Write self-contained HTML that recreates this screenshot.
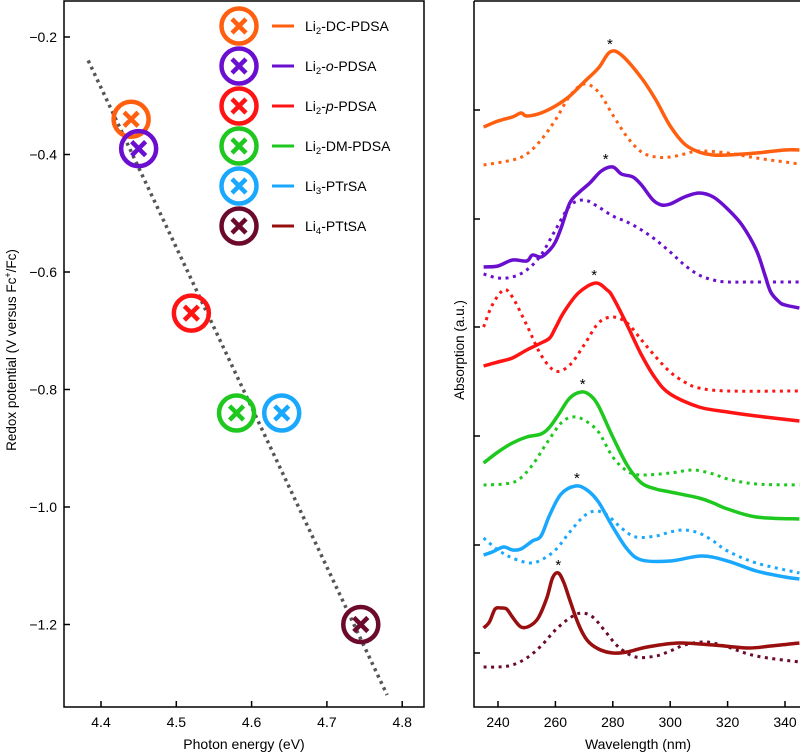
<!DOCTYPE html>
<html><head><meta charset="utf-8">
<style>
body{margin:0;background:#fff;}
svg{display:block;font-family:"Liberation Sans",sans-serif;}
</style></head>
<body>
<svg id="fig" width="800" height="753" viewBox="0 0 800 753" xmlns="http://www.w3.org/2000/svg">
<g id="left"></g>
<g id="right"></g>
</svg>
<script>
// ---- Left panel data ----
const names = ["Li2-DC-PDSA","Li2-o-PDSA","Li2-p-PDSA","Li2-DM-PDSA","Li3-PTrSA","Li4-PTtSA"];
const energies = [4.44, 4.45, 4.52, 4.58, 4.64, 4.745];
const potentials = [-0.34, -0.39, -0.67, -0.84, -0.84, -1.2];
const markerColors = ["#ff5f0f","#6a0fcf","#ff1414","#1ec81e","#1aa8ff","#6b0a2c"];
const lineColors = ["#ff5f0f","#6a0fcf","#ff1414","#1ec81e","#1aa8ff","#990f0f"];
const xTicksE = [4.4,4.5,4.6,4.7,4.8];
const yTicksV = [-0.2,-0.4,-0.6,-0.8,-1.0,-1.2];
const yTickLabels = ["\u22120.2","\u22120.4","\u22120.6","\u22120.8","\u22121.0","\u22121.2"];
const fitE = [4.383, 4.78];
const fitV = [-0.24, -1.32];

// ---- Right panel data ----
const wTicks = [240,260,280,300,320,340];
const absTicks = [0.54,1.62,2.71,3.80,4.88,5.97];
const sw = [
 [235,240,245,248,250,255,260,265,270,275,279,283,290,295,300,305,310,315,320,330,340,345],
 [235,240,245,250,252,255,258,260,262,265,268,272,276,280,283,287,290,294,297,300,305,310,315,320,325,330,333,335,338,340,345],
 [235,240,245,250,255,258,260,263,268,274,278,280,285,290,295,300,310,320,330,345],
 [235,240,245,250,255,258,261,265,269,272,275,280,285,290,295,300,310,315,320,330,345],
 [235,238,242,245,248,252,255,258,262,267,271,275,280,285,290,300,311,320,330,340,345],
 [235,237,239,241,243,245,248,251,254,257,259,261,263,265,268,271,275,280,285,292,303,315,327,335,345]
];
const sa = [
 [5.80,5.86,5.90,5.94,5.91,5.94,6.01,6.11,6.25,6.39,6.55,6.52,6.29,6.07,5.81,5.63,5.55,5.52,5.52,5.54,5.57,5.57],
 [4.40,4.41,4.47,4.46,4.52,4.50,4.57,4.65,4.79,5.04,5.14,5.24,5.36,5.40,5.33,5.30,5.22,5.07,5.02,5.03,5.10,5.14,5.10,4.98,4.82,4.57,4.32,4.15,4.05,4.02,3.99],
 [3.41,3.45,3.49,3.57,3.64,3.69,3.79,3.95,4.14,4.24,4.17,4.10,3.82,3.52,3.28,3.13,3.00,2.95,2.91,2.86],
 [2.44,2.55,2.64,2.70,2.73,2.80,2.92,3.09,3.15,3.12,3.01,2.70,2.42,2.24,2.18,2.15,2.09,2.04,1.98,1.90,1.88],
 [1.52,1.55,1.60,1.57,1.58,1.66,1.71,1.92,2.13,2.21,2.17,2.05,1.80,1.58,1.47,1.46,1.51,1.46,1.36,1.30,1.28],
 [0.79,0.85,0.98,0.99,0.98,0.90,0.80,0.81,0.89,1.09,1.29,1.34,1.24,1.07,0.83,0.67,0.58,0.54,0.55,0.60,0.64,0.62,0.59,0.61,0.64]
];
const dw = [
 [235,245,250,255,260,265,270,275,280,285,290,295,300,305,310,320,330,340,345],
 [235,240,245,250,255,260,265,270,275,280,285,290,295,300,305,310,315,320,330,345],
 [235,238,242,245,250,255,260,265,270,275,280,285,290,295,300,305,310,320,345],
 [235,242,247,252,257,262,266,270,275,280,285,290,300,308,315,320,330,345],
 [235,240,245,251,255,260,265,270,274,278,283,288,295,300,305,310,315,320,330,345],
 [235,240,245,250,255,260,265,269,273,277,282,288,295,300,305,311,315,320,330,345]
];
const da = [
 [5.42,5.47,5.53,5.67,5.87,6.11,6.23,6.15,5.92,5.70,5.55,5.50,5.50,5.53,5.56,5.54,5.49,5.45,5.43],
 [4.33,4.29,4.30,4.37,4.52,4.77,5.01,5.07,5.00,4.91,4.85,4.77,4.67,4.55,4.42,4.32,4.27,4.25,4.25,4.25],
 [3.80,4.02,4.17,4.10,3.82,3.52,3.36,3.42,3.62,3.84,3.90,3.84,3.67,3.50,3.35,3.25,3.19,3.16,3.16],
 [2.22,2.23,2.27,2.42,2.64,2.84,2.90,2.87,2.75,2.50,2.36,2.32,2.34,2.37,2.33,2.28,2.23,2.22],
 [1.69,1.57,1.49,1.44,1.47,1.57,1.75,1.91,1.96,1.92,1.79,1.70,1.71,1.75,1.77,1.74,1.66,1.56,1.44,1.34],
 [0.40,0.40,0.42,0.49,0.61,0.77,0.89,0.94,0.90,0.77,0.60,0.50,0.51,0.56,0.62,0.65,0.64,0.60,0.51,0.45]
];
const dottedColors = ["#ff5f0f","#6a0fcf","#ff1414","#1ec81e","#1aa8ff","#6b0a2c"];
const peakW = [279, 277.5, 273.5, 269.5, 267.5, 261];

const NS="http://www.w3.org/2000/svg";
function mk(tag, parent, attrs){const e=document.createElementNS(NS,tag);for(const k in attrs)e.setAttribute(k,attrs[k]);parent.appendChild(e);return e;}

const xE = e => 101 + (e-4.4)*753;
const yV = v => 37 + (-0.2 - v)*587.5;
const xW = w => 498 + (w-240)*2.87;
const yA = a => 707 - a*100;

const L=document.getElementById('left');
let box=mk('rect',L,{x:64,y:1,width:360,height:706,fill:'none',stroke:'#000','stroke-width':1.5});


xTicksE.forEach(e=>{
  const t=mk('line',L,{x1:xE(e),x2:xE(e),y1:707,y2:701,stroke:'#000','stroke-width':1.5});
  
  
  const lb=mk('text',L,{x:xE(e),y:727,'font-size':14,'text-anchor':'middle',fill:'#000'});lb.textContent=e.toFixed(1);
  
  
});
yTicksV.forEach((v,i)=>{
  const t=mk('line',L,{x1:64,x2:70,y1:yV(v),y2:yV(v),stroke:'#000','stroke-width':1.5});
  
  
  const lb=mk('text',L,{x:57,y:yV(v)+5,'font-size':14,'text-anchor':'end',fill:'#000'});lb.textContent=yTickLabels[i];
  
  
});
let xt=mk('text',L,{x:244,y:749,'font-size':14,'text-anchor':'middle'});xt.textContent='Photon energy (eV)';


let yt=mk('text',L,{x:0,y:0,'font-size':13.5,'text-anchor':'middle',transform:'translate(16,350) rotate(-90)'});
yt.innerHTML='Redox potential (V versus Fc<tspan baseline-shift="super" font-size="9">+</tspan>/Fc)';


let fit=mk('line',L,{x1:xE(fitE[0]),y1:yV(fitV[0]),x2:xE(fitE[1]),y2:yV(fitV[1]),stroke:'#555','stroke-width':3.5,'stroke-dasharray':'3 4'});



function marker(parent,cx,cy,col){
  const g=mk('g',parent,{});
  mk('circle',g,{cx:cx,cy:cy,r:17.5,fill:'none',stroke:col,'stroke-width':4.5});
  mk('path',g,{d:`M${cx-7} ${cy-7}L${cx+7} ${cy+7}M${cx+7} ${cy-7}L${cx-7} ${cy+7}`,stroke:col,'stroke-width':4.5,'stroke-linecap':'butt'});
  return g;
}
energies.forEach((e,i)=>{
  const m=marker(L,xE(e),yV(potentials[i]),markerColors[i]);
  
  
});
const legTexts=[['2','-DC-PDSA'],['2','-','o','-PDSA'],['2','-','p','-PDSA'],['2','-DM-PDSA'],['3','-PTrSA'],['4','-PTtSA']];
names.forEach((n,i)=>{
  const y=26+i*40;
  const g=mk('g',L,{});
  
  
  marker(g,239,y,markerColors[i]);
  mk('line',g,{x1:272,x2:294,y1:y,y2:y,stroke:lineColors[i],'stroke-width':3});
  const t=mk('text',g,{x:305,y:y+5,'font-size':14});
  const parts=legTexts[i];
  let html='Li<tspan dy="3" font-size="9.5">'+parts[0]+'</tspan><tspan dy="-3">';
  if(parts.length===4){html+='-</tspan><tspan font-style="italic">'+parts[2]+'</tspan><tspan>'+parts[3]+'</tspan>';}
  else html+=parts[1]+'</tspan>';
  t.innerHTML=html;
});

const R=document.getElementById('right');
let rb=mk('path',R,{d:'M474 1H800M474 1V707H800',fill:'none',stroke:'#000','stroke-width':1.5});


wTicks.forEach(w=>{
  const t=mk('line',R,{x1:xW(w),x2:xW(w),y1:707,y2:701,stroke:'#000','stroke-width':1.5});
  
  
  const lb=mk('text',R,{x:xW(w),y:727,'font-size':14,'text-anchor':'middle'});lb.textContent=w;
  
  
});
absTicks.forEach(a=>{
  const t=mk('line',R,{x1:474,x2:480,y1:yA(a),y2:yA(a),stroke:'#000','stroke-width':1.5});
  
  
});
let rxt=mk('text',R,{x:638,y:749,'font-size':14,'text-anchor':'middle'});rxt.textContent='Wavelength (nm)';


let ryt=mk('text',R,{x:0,y:0,'font-size':13.5,'text-anchor':'middle',transform:'translate(464,350) rotate(-90)'});ryt.textContent='Absorption (a.u.)';



function smooth(ws,as){
  const p=ws.map((w,i)=>[xW(w),yA(as[i])]);
  let d='M'+p[0][0].toFixed(1)+' '+p[0][1].toFixed(1);
  for(let i=0;i<p.length-1;i++){
    const p0=p[i-1]||p[i],p1=p[i],p2=p[i+1],p3=p[i+2]||p2;
    const c1=[p1[0]+(p2[0]-p0[0])/6,p1[1]+(p2[1]-p0[1])/6];
    const c2=[p2[0]-(p3[0]-p1[0])/6,p2[1]-(p3[1]-p1[1])/6];
    d+=`C${c1[0].toFixed(1)} ${c1[1].toFixed(1)} ${c2[0].toFixed(1)} ${c2[1].toFixed(1)} ${p2[0].toFixed(1)} ${p2[1].toFixed(1)}`;
  }
  return d;
}
const clip=mk('clipPath',R,{id:'rc'});mk('rect',clip,{x:474,y:0,width:326,height:707});
const cg=mk('g',R,{'clip-path':'url(#rc)'});
names.forEach((n,i)=>{
  const dd=mk('path',cg,{d:smooth(dw[i],da[i]),fill:'none',stroke:dottedColors[i],'stroke-width':3,'stroke-dasharray':'3 4.5'});
  
  
  const s=mk('path',cg,{d:smooth(sw[i],sa[i]),fill:'none',stroke:lineColors[i],'stroke-width':3.5,'stroke-linejoin':'round'});
  
  
  let pk=-1e9; sw[i].forEach((w,j)=>{if(w>=peakW[i]-3&&w<=peakW[i]+3&&sa[i][j]>pk)pk=sa[i][j];});
  const st=mk('text',R,{x:xW(peakW[i]),y:yA(pk)-3,'font-size':15,'text-anchor':'middle'});st.textContent='*';
  
  
});
</script>
</body></html>
